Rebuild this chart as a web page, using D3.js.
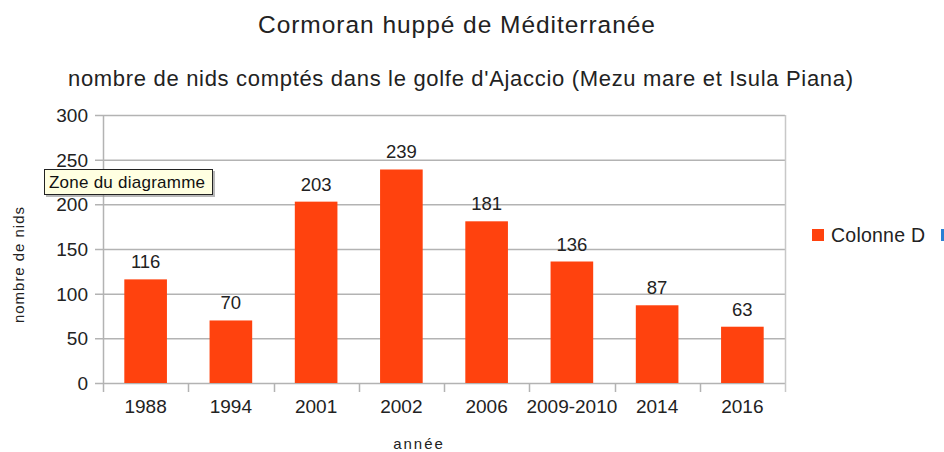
<!DOCTYPE html>
<html><head><meta charset="utf-8">
<script src="https://cdn.jsdelivr.net/npm/d3@7/dist/d3.min.js"></script>
<style>body{margin:0;background:#fff;} svg{display:block;font-family:"Liberation Sans",Arial,sans-serif;}</style>
</head><body><svg id="c" width="944" height="452"></svg>
<script>
const categories = ["1988","1994","2001","2002","2006","2009-2010","2014","2016"];
const values = [116,70,203,239,181,136,87,63];
const yTicks = [0,50,100,150,200,250,300];
const seriesName = "Colonne D";

const svg = d3.select("#c");
const m = {left:103, right:785, top:115, bottom:383};
const x = d3.scaleBand().domain(categories).range([m.left, m.right]).paddingInner(0.5).paddingOuter(0.25);
const xb = d3.scaleBand().domain(categories).range([m.left, m.right]);
const y = d3.scaleLinear().domain([0,300]).range([m.bottom, m.top]);

// title
svg.append("text").attr("x",456.5).attr("y",33).attr("text-anchor","middle")
  .attr("font-size",24.5).attr("fill","#222").attr("textLength",397).attr("lengthAdjust","spacing")
  .text("Cormoran huppé de Méditerranée");
svg.append("text").attr("x",460.5).attr("y",86).attr("text-anchor","middle")
  .attr("font-size",22).attr("fill","#222").attr("textLength",785).attr("lengthAdjust","spacing")
  .text("nombre de nids comptés dans le golfe d'Ajaccio (Mezu mare et Isula Piana)");

// grid
const g = svg.append("g");
g.selectAll("line.grid").data(yTicks).join("line")
  .attr("x1",m.left-8).attr("x2",m.right).attr("y1",d=>y(d)+0.5).attr("y2",d=>y(d)+0.5)
  .attr("stroke","#b3b3b3").attr("stroke-width",1.5);
g.append("line").attr("x1",m.right+0.5).attr("x2",m.right+0.5).attr("y1",m.top).attr("y2",m.bottom+9)
  .attr("stroke","#c8c8c8").attr("stroke-width",1.5);
g.append("line").attr("x1",m.left+0.5).attr("x2",m.left+0.5).attr("y1",m.top).attr("y2",m.bottom+9)
  .attr("stroke","#b3b3b3").attr("stroke-width",1.5);
const bounds = categories.map(c=>xb(c)).concat([m.right]);
g.selectAll("line.xt").data(bounds.slice(1,-1)).join("line")
  .attr("x1",d=>Math.round(d)+0.5).attr("x2",d=>Math.round(d)+0.5).attr("y1",m.bottom).attr("y2",m.bottom+9)
  .attr("stroke","#b3b3b3").attr("stroke-width",1.5);

// y tick labels
svg.selectAll("text.yl").data(yTicks).join("text")
  .attr("x",m.left-15).attr("y",d=>y(d)+7).attr("text-anchor","end")
  .attr("font-size",19).attr("fill","#222").text(d=>d);

// bars
svg.selectAll("rect.bar").data(values).join("rect")
  .attr("x",(d,i)=>x(categories[i])).attr("width",x.bandwidth())
  .attr("y",d=>y(d)).attr("height",d=>y(0)-y(d)).attr("fill","#ff420e");

// data labels
svg.selectAll("text.dl").data(values).join("text")
  .attr("x",(d,i)=>x(categories[i])+x.bandwidth()/2).attr("y",d=>y(d)-11)
  .attr("text-anchor","middle").attr("font-size",18.5).attr("fill","#222").text(d=>d);

// x labels
svg.selectAll("text.xl").data(categories).join("text")
  .attr("x",d=>xb(d)+xb.bandwidth()/2).attr("y",413).attr("text-anchor","middle")
  .attr("font-size",19).attr("fill","#222").text(d=>d);

// axis titles
svg.append("text").attr("x",419).attr("y",449).attr("text-anchor","middle")
  .attr("font-size",15).attr("letter-spacing",2).attr("fill","#222").text("année");
svg.append("text").attr("transform","translate(24,265) rotate(-90)").attr("text-anchor","middle")
  .attr("font-size",15).attr("fill","#222").attr("textLength",116).attr("lengthAdjust","spacing").text("nombre de nids");

// legend
svg.append("rect").attr("x",812).attr("y",229).attr("width",12).attr("height",12).attr("fill","#ff420e");
svg.append("text").attr("x",831).attr("y",242).attr("font-size",19.5).attr("fill","#222")
  .attr("textLength",94).attr("lengthAdjust","spacing").text(seriesName);
svg.append("rect").attr("x",941).attr("y",229).attr("width",3).attr("height",12).attr("fill","#2a7fd4");

// tooltip
const tt = svg.append("g");
tt.append("rect").attr("x",46).attr("y",171).attr("width",169).attr("height",26).attr("fill","#888").attr("opacity",0.6);
tt.append("rect").attr("x",44.5).attr("y",169.5).attr("width",168).attr("height",25).attr("fill","#ffffe1").attr("stroke","#222").attr("stroke-width",1);
tt.append("text").attr("x",49).attr("y",188).attr("font-size",17).attr("fill","#111")
  .attr("textLength",156).attr("lengthAdjust","spacing").text("Zone du diagramme");
</script></body></html>
